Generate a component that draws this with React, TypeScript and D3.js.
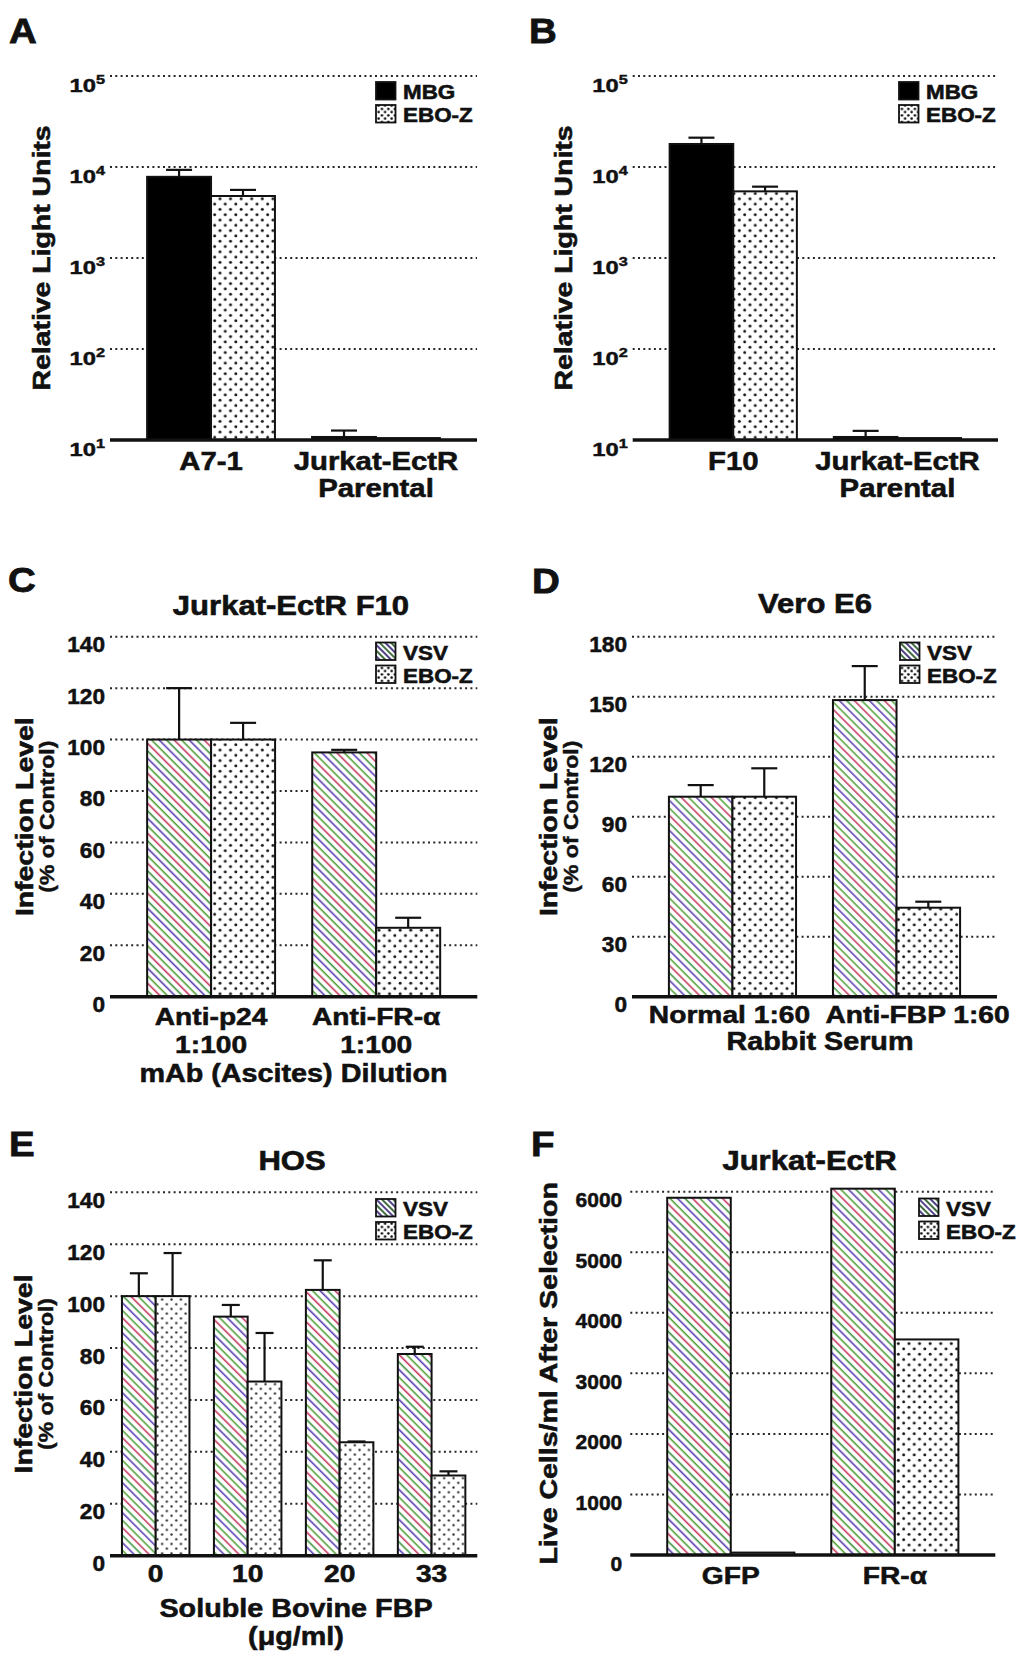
import React from "react";
import * as d3 from "d3";

// ---------------- data ----------------
const legendAB = ["MBG", "EBO-Z"];
const legendCF = ["VSV", "EBO-Z"];

const catsA = ["A7-1", "Jurkat-EctR|Parental"];
const mbgA = [7800, 10.8];
const mbgErrA = [9300, 12.7];
const eboA = [4800, 10.5];
const eboErrA = [5600, NaN];

const catsB = ["F10", "Jurkat-EctR|Parental"];
const mbgB = [17900, 10.8];
const mbgErrB = [21000, 12.6];
const eboB = [5400, 10.5];
const eboErrB = [6080, NaN];

const logTicks = [10, 100, 1000, 10000, 100000];

const catsC = ["Anti-p24|1:100", "Anti-FR-α|1:100"];
const vsvC = [100, 95];
const vsvErrC = [120, 96];
const eboC = [100, 26.8];
const eboErrC = [106.5, 30.7];
const ticksC = [0, 20, 40, 60, 80, 100, 120, 140];

const catsD = ["Normal 1:60", "Anti-FBP 1:60"];
const vsvD = [100, 148.3];
const vsvErrD = [105.8, 165.3];
const eboD = [100, 44.5];
const eboErrD = [114.2, 47.5];
const ticksD = [0, 30, 60, 90, 120, 150, 180];

const catsE = ["0", "10", "20", "33"];
const vsvE = [100, 92.1, 102.4, 77.7];
const vsvErrE = [108.8, 96.6, 113.8, 80.5];
const eboE = [100, 67.1, 43.7, 30.9];
const eboErrE = [116.6, 85.8, 44, 32.5];
const ticksE = [0, 20, 40, 60, 80, 100, 120, 140];

const catsF = ["GFP", "FR-α"];
const vsvF = [5900, 6050];
const eboF = [40, 3560];
const ticksF = [0, 1000, 2000, 3000, 4000, 5000, 6000];

const titles = ["Jurkat-EctR F10", "Vero E6", "HOS", "Jurkat-EctR"];

// ---------------- styling ----------------
const FONT = "'Liberation Sans', Arial, Helvetica, sans-serif";
const SX = 1.15;
const INK = "#111";

function T({ x, y, size, anchor = "start", rot = 0, sx = SX, sw = 0.55, children }: any) {
  return (
    <text
      transform={`translate(${x},${y}) rotate(${rot}) scale(${sx},1)`}
      fontSize={size}
      textAnchor={anchor}
      fontFamily={FONT}
      fontWeight="bold"
      fill={INK}
      stroke={INK}
      strokeWidth={sw}
    >
      {children}
    </text>
  );
}

function Panel(p: any) {
  const { x0, x1, yTop, yBot, log, domain, ticks, cats, series, pi, po } = p;
  const y: any = log
    ? d3.scaleLog().domain(domain).range([yBot, yTop])
    : d3.scaleLinear().domain(domain).range([yBot, yTop]);
  const xb = d3.scaleBand<string>().domain(cats).range([x0, x1]).paddingInner(pi).paddingOuter(po);
  const xs = d3
    .scaleBand<string>()
    .domain(series.map((s: any) => s.name))
    .range([0, xb.bandwidth()]);
  const base = y(domain[0]);
  const capW = p.capW ?? 26;
  const tickFont = p.tickFont ?? 22;

  return (
    <g>
      {/* panel letter */}
      <T x={p.letterX} y={p.letterY} size={35} sx={1.1} sw={0.8}>
        {p.letter}
      </T>
      {p.title && (
        <T x={p.titleX} y={p.titleY} size={27} anchor="middle" sw={0.6}>
          {p.title}
        </T>
      )}
      {/* gridlines */}
      {ticks
        .filter((t: number) => t !== domain[0])
        .map((t: number) => (
          <line
            key={"g" + t}
            x1={x0}
            x2={x1}
            y1={y(t)}
            y2={y(t)}
            stroke="#262626"
            strokeWidth={2}
            strokeDasharray="2 3.3"
          />
        ))}
      {/* tick labels */}
      {ticks.map((t: number) =>
        log ? (
          <text
            key={"t" + t}
            transform={`translate(${x0 - 5},${y(t) + 16}) scale(1.25,1)`}
            textAnchor="end"
            fontFamily={FONT}
            fontWeight="bold"
            fontSize={19}
            fill={INK}
            stroke={INK}
            strokeWidth={0.45}
          >
            10
            <tspan dy={-8.5} fontSize={13}>
              {Math.round(Math.log10(t))}
            </tspan>
          </text>
        ) : (
          <T
            key={"t" + t}
            x={x0 - (p.tickGap ?? 5)}
            y={y(t) + 15.5}
            size={tickFont}
            anchor="end"
            sx={p.tickSX ?? 1.03}
            sw={0.5}
          >
            {d3.format("d")(t)}
          </T>
        )
      )}
      {/* bars */}
      {cats.map((c: string, ci: number) =>
        series.map((s: any) => {
          const v = s.vals[ci];
          const bx = (xb(c) as number) + (xs(s.name) as number);
          return (
            <rect
              key={c + s.name}
              x={bx}
              y={y(v)}
              width={xs.bandwidth()}
              height={base - y(v)}
              fill={s.fill}
              stroke={INK}
              strokeWidth={2}
            />
          );
        })
      )}
      {/* error bars */}
      {cats.map((c: string, ci: number) =>
        series.map((s: any) => {
          if (!s.errs) return null;
          const e = s.errs[ci];
          if (!isFinite(e)) return null;
          const cx = (xb(c) as number) + (xs(s.name) as number) + xs.bandwidth() / 2;
          return (
            <g key={"e" + c + s.name} stroke={INK} strokeWidth={2.2}>
              <line x1={cx} x2={cx} y1={y(s.vals[ci])} y2={y(e)} />
              <line x1={cx - capW / 2} x2={cx + capW / 2} y1={y(e)} y2={y(e)} />
            </g>
          );
        })
      )}
      {/* baseline */}
      <line x1={x0} x2={x1} y1={base} y2={base} stroke={INK} strokeWidth={3.4} />
      {/* category labels */}
      {cats.map((c: string, ci: number) =>
        c.split("|").map((ln: string, li: number) => (
          <T
            key={"c" + c + li}
            x={(xb(c) as number) + xb.bandwidth() / 2 + (p.catShift ? p.catShift[ci] : 0)}
            y={p.catY + li * p.catLH}
            size={p.catFont ?? 24.5}
            anchor="middle"
          >
            {ln}
          </T>
        ))
      )}
      {/* x axis title */}
      {p.xTitle &&
        p.xTitle.split("|").map((ln: string, li: number) => (
          <T key={"xt" + li} x={p.xTitleX} y={p.xTitleY + li * 28} size={25} anchor="middle">
            {ln}
          </T>
        ))}
      {/* y axis title */}
      <T x={p.yTitleX} y={(yTop + yBot) / 2} size={p.yTitleFont ?? 24.7} anchor="middle" rot={-90} sw={0.6}>
        {p.yTitle}
      </T>
      {p.ySub && (
        <T x={p.ySubX} y={(yTop + yBot) / 2} size={20} anchor="middle" rot={-90} sw={0.45}>
          {p.ySub}
        </T>
      )}
      {/* legend */}
      {series.map((s: any, i: number) => (
        <g key={"l" + s.name}>
          <rect
            x={p.legX}
            y={p.legY + i * 23}
            width={19.5}
            height={17.5}
            fill={s.legFill ?? s.fill}
            stroke={INK}
            strokeWidth={1.8}
          />
          <T x={p.legX + 27} y={p.legY + i * 23 + 17} size={19.5}>
            {s.name}
          </T>
        </g>
      ))}
    </g>
  );
}

export default function App() {
  const pad = 0.225;
  return (
    <svg
      width={1024}
      height={1655}
      viewBox="0 0 1024 1655"
      style={{ position: "absolute", left: 0, top: 0, background: "#fff" }}
    >
      <defs>
        <pattern id="dots" width={10.6} height={10.6} patternUnits="userSpaceOnUse">
          <rect width={10.6} height={10.6} fill="#fff" />
          <circle cx={2.65} cy={2.65} r={1.45} fill="#141414" />
          <circle cx={7.95} cy={7.95} r={1.45} fill="#141414" />
        </pattern>
        <pattern id="dotsE" width={9.4} height={9.4} patternUnits="userSpaceOnUse">
          <rect width={9.4} height={9.4} fill="#fff" />
          <circle cx={2.35} cy={2.35} r={1.15} fill="#2a2a2a" />
          <circle cx={7.05} cy={7.05} r={1.15} fill="#2a2a2a" />
        </pattern>
        <pattern id="dotsLeg" width={6.5} height={6.5} patternUnits="userSpaceOnUse">
          <rect width={6.5} height={6.5} fill="#fff" />
          <circle cx={1.6} cy={1.6} r={1.3} fill="#111" />
          <circle cx={4.9} cy={4.9} r={1.3} fill="#111" />
        </pattern>
        <pattern
          id="hatch"
          width={10}
          height={21.2}
          patternUnits="userSpaceOnUse"
          patternTransform="rotate(45)"
        >
          <rect width={10} height={21.2} fill="#fff" />
          <line x1={0} x2={10} y1={2.65} y2={2.65} stroke="#3f9440" strokeWidth={1.6} />
          <line x1={0} x2={10} y1={7.95} y2={7.95} stroke="#5b3fb0" strokeWidth={1.6} />
          <line x1={0} x2={10} y1={13.25} y2={13.25} stroke="#52a23a" strokeWidth={1.6} />
          <line x1={0} x2={10} y1={18.55} y2={18.55} stroke="#c43a60" strokeWidth={1.6} />
        </pattern>
        <pattern
          id="hatchLeg"
          width={10}
          height={8}
          patternUnits="userSpaceOnUse"
          patternTransform="rotate(45)"
        >
          <rect width={10} height={8} fill="#fff" />
          <line x1={0} x2={10} y1={2} y2={2} stroke="#2f5e2f" strokeWidth={1.8} />
          <line x1={0} x2={10} y1={6} y2={6} stroke="#3c2f7a" strokeWidth={1.8} />
        </pattern>
      </defs>
      <rect width={1024} height={1655} fill="#fff" />

      {/* Panel A */}
      <Panel
        letter="A" letterX={9} letterY={43}
        x0={110} x1={477} yTop={76} yBot={440}
        log domain={[10, 100000]} ticks={logTicks}
        cats={catsA} pi={pad} po={pad}
        series={[
          { name: legendAB[0], vals: mbgA, errs: mbgErrA, fill: "#000" },
          { name: legendAB[1], vals: eboA, errs: eboErrA, fill: "url(#dots)", legFill: "url(#dotsLeg)" },
        ]}
        catY={470} catLH={27} catFont={25.5}
        yTitle="Relative Light Units" yTitleX={49.5}
        legX={376} legY={82}
      />

      {/* Panel B */}
      <Panel
        letter="B" letterX={529} letterY={43}
        x0={632.7} x1={998} yTop={76} yBot={440}
        log domain={[10, 100000]} ticks={logTicks}
        cats={catsB} pi={pad} po={pad}
        series={[
          { name: legendAB[0], vals: mbgB, errs: mbgErrB, fill: "#000" },
          { name: legendAB[1], vals: eboB, errs: eboErrB, fill: "url(#dots)", legFill: "url(#dotsLeg)" },
        ]}
        catY={470} catLH={27} catFont={25.5}
        yTitle="Relative Light Units" yTitleX={572}
        legX={899} legY={82}
      />

      {/* Panel C */}
      <Panel
        letter="C" letterX={8} letterY={592}
        title={titles[0]} titleX={291} titleY={615}
        x0={110} x1={477.3} yTop={636.7} yBot={996.7}
        domain={[0, 140]} ticks={ticksC}
        cats={catsC} pi={pad} po={pad}
        series={[
          { name: legendCF[0], vals: vsvC, errs: vsvErrC, fill: "url(#hatch)", legFill: "url(#hatchLeg)" },
          { name: legendCF[1], vals: eboC, errs: eboErrC, fill: "url(#dots)", legFill: "url(#dotsLeg)" },
        ]}
        catY={1025} catLH={28.3}
        xTitle="mAb (Ascites) Dilution" xTitleX={293.5} xTitleY={1081.7}
        yTitle="Infection Level" yTitleX={33.3}
        ySub="(% of Control)" ySubX={54}
        legX={376} legY={642.5}
      />

      {/* Panel D */}
      <Panel
        letter="D" letterX={532} letterY={593}
        title={titles[1]} titleX={815} titleY={613}
        x0={632} x1={997} yTop={636.7} yBot={996.7}
        domain={[0, 180]} ticks={ticksD}
        cats={catsD} pi={pad} po={pad}
        series={[
          { name: legendCF[0], vals: vsvD, errs: vsvErrD, fill: "url(#hatch)", legFill: "url(#hatchLeg)" },
          { name: legendCF[1], vals: eboD, errs: eboErrD, fill: "url(#dots)", legFill: "url(#dotsLeg)" },
        ]}
        catY={1023.3} catLH={28} catShift={[-3, 21]}
        xTitle="Rabbit Serum" xTitleX={820} xTitleY={1050}
        yTitle="Infection Level" yTitleX={557}
        ySub="(% of Control)" ySubX={578}
        legX={900} legY={642.5}
      />

      {/* Panel E */}
      <Panel
        letter="E" letterX={9} letterY={1156}
        title={titles[2]} titleX={292} titleY={1169.5}
        x0={110} x1={477.3} yTop={1192.3} yBot={1555.7}
        domain={[0, 140]} ticks={ticksE}
        cats={catsE} pi={0.266} po={0.13} capW={18}
        series={[
          { name: legendCF[0], vals: vsvE, errs: vsvErrE, fill: "url(#hatch)", legFill: "url(#hatchLeg)" },
          { name: legendCF[1], vals: eboE, errs: eboErrE, fill: "url(#dotsE)", legFill: "url(#dotsLeg)" },
        ]}
        catY={1582} catLH={28}
        xTitle="Soluble Bovine FBP|(μg/ml)" xTitleX={296} xTitleY={1617}
        yTitle="Infection Level" yTitleX={31.7}
        ySub="(% of Control)" ySubX={53}
        legX={376} legY={1199}
      />

      {/* Panel F */}
      <Panel
        letter="F" letterX={531} letterY={1156}
        title={titles[3]} titleX={809.5} titleY={1169.5}
        x0={630.3} x1={995.3} yTop={1191.7} yBot={1555}
        domain={[0, 6000]} ticks={ticksF} tickGap={8} tickFont={21} tickSX={1.0}
        cats={catsF} pi={pad} po={pad}
        series={[
          { name: legendCF[0], vals: vsvF, fill: "url(#hatch)", legFill: "url(#hatchLeg)" },
          { name: legendCF[1], vals: eboF, fill: "url(#dots)", legFill: "url(#dotsLeg)" },
        ]}
        catY={1584} catLH={28}
        yTitle="Live Cells/ml After Selection" yTitleX={557} yTitleFont={24.8}
        legX={919} legY={1198.5}
      />
    </svg>
  );
}
